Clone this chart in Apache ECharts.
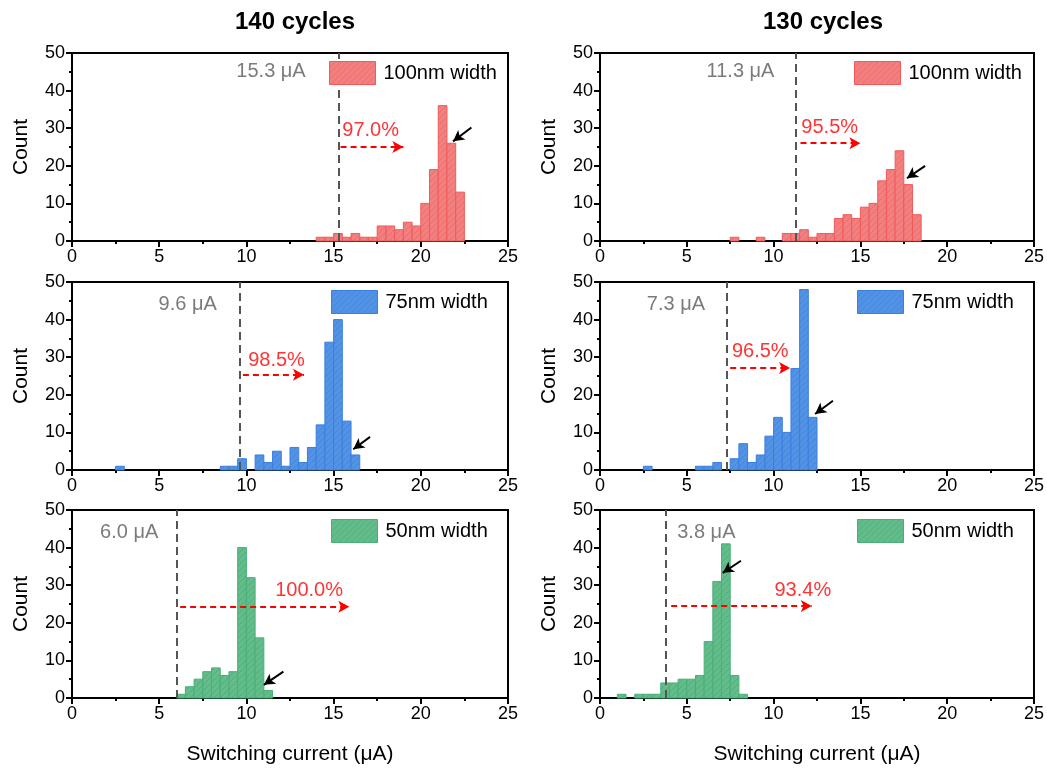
<!DOCTYPE html>
<html>
<head>
<meta charset="utf-8">
<script src="https://cdn.jsdelivr.net/npm/echarts@6/dist/echarts.min.js"></script>
<style>
  html, body { margin: 0; padding: 0; background: #fff; }
  #container { width: 1047px; height: 768px; }
</style>
</head>
<body>
<div id="container"></div>
<script>
var dom = document.getElementById("container");
var myChart = echarts.init(dom, null, { renderer: 'canvas' });

// histogram data: bins are 0.5 uA wide, first bin starts at binStart
var binWidth = 0.5;

var binStart140_100 = 14;
var counts140_100 = [1, 1, 2, 1, 2, 1, 1, 4, 4, 3, 5, 4, 10, 19, 36, 26, 13];

var binStart130_100 = 7.5;
var counts130_100 = [1, 0, 0, 1, 0, 0, 2, 2, 3, 1, 2, 2, 6, 7, 6, 9, 10, 16, 19, 24, 15, 7];

var binStart140_75 = 2.5;
var counts140_75 = [1, 0, 0, 0, 0, 0, 0, 0, 0, 0, 0, 0, 1, 1, 3, 0, 4, 2, 5, 1, 6, 2, 6, 12, 34, 40, 13, 4];

var binStart130_75 = 2.5;
var counts130_75 = [1, 0, 0, 0, 0, 0, 1, 1, 2, 0, 3, 7, 2, 4, 9, 14, 10, 27, 48, 14];

var binStart140_50 = 6;
var counts140_50 = [1, 3, 5, 7, 8, 6, 7, 40, 32, 16, 2];

var binStart130_50 = 1;
var counts130_50 = [1, 0, 1, 1, 1, 4, 4, 5, 5, 6, 15, 31, 41, 6, 1];

var seriesNames = ['100nm width', '100nm width', '75nm width', '75nm width', '50nm width', '50nm width'];
var thresholds = [15.3, 11.3, 9.6, 7.3, 6.0, 3.8];
var thresholdLabels = ['15.3 μA', '11.3 μA', '9.6 μA', '7.3 μA', '6.0 μA', '3.8 μA'];
var percentLabels = ['97.0%', '95.5%', '98.5%', '96.5%', '100.0%', '93.4%'];
var columnTitles = ['140 cycles', '130 cycles'];
var xTicks = [0, 5, 10, 15, 20, 25];
var yTicks = [0, 10, 20, 30, 40, 50];

var binStarts = [binStart140_100, binStart130_100, binStart140_75, binStart130_75, binStart140_50, binStart130_50];
var allCounts = [counts140_100, counts130_100, counts140_75, counts130_75, counts140_50, counts130_50];

// annotation placement (data coords)
var annot = [
  { thr: [13.4, 45, 'left'], pct: [15.5, 29.5], red: [[15.4, 25], [19.0, 25]], blk: [[22.9, 30.2], [21.85, 26.5]] },
  { thr: [10.05, 45, 'left'], pct: [11.6, 30.3], red: [[11.55, 26], [15.0, 26]], blk: [[18.73, 20], [17.68, 16.7]] },
  { thr: [8.3, 44, 'left'], pct: [10.1, 29.1], red: [[9.8, 25.3], [13.3, 25.3]], blk: [[17.09, 8.8], [16.13, 5.5]] },
  { thr: [6.05, 44, 'left'], pct: [7.6, 31.4], red: [[7.5, 27.1], [10.95, 27.1]], blk: [[13.42, 18.4], [12.39, 14.9]] },
  { thr: [4.95, 44, 'left'], pct: [11.65, 28.7], red: [[6.2, 24.3], [15.9, 24.3]], blk: [[12.12, 7.0], [11.0, 3.5]] },
  { thr: [4.45, 44, 'right'], pct: [10.05, 28.7], red: [[4.1, 24.5], [12.2, 24.5]], blk: [[8.12, 36.5], [7.07, 33.3]] }
];

var fills = ['#f47f7f', '#f47f7f', '#5393e6', '#5393e6', '#62bd8b', '#62bd8b'];
var hatchLines = ['#e56464', '#e56464', '#3f7fd4', '#3f7fd4', '#4aa874', '#4aa874'];
var borders = ['#f25a5a', '#f25a5a', '#3a7fdf', '#3a7fdf', '#48b077', '#48b077'];

var FONT = '"Liberation Sans", Arial, sans-serif';

function hatch(fill, line) {
  var c = document.createElement('canvas');
  c.width = 6; c.height = 6;
  var g = c.getContext('2d');
  g.fillStyle = fill;
  g.fillRect(0, 0, 6, 6);
  g.strokeStyle = line;
  g.lineWidth = 0.7;
  g.beginPath();
  g.moveTo(0, 6); g.lineTo(6, 0);
  g.moveTo(-1, 1); g.lineTo(1, -1);
  g.moveTo(5, 7); g.lineTo(7, 5);
  g.stroke();
  return c;
}

var gridLeft = [72, 600];
var gridTop = [53, 282, 510];
var gridW = 436, gridH = 188;
var legendLeft = [329, 854, 331, 857, 331, 857];
var legendTop = [61, 61, 290, 290, 519, 519];

var grids = [], xAxes = [], yAxes = [], series = [], legends = [];

for (var i = 0; i < 6; i++) {
  var col = i % 2, row = Math.floor(i / 2);
  var pattern = { image: hatch(fills[i], hatchLines[i]), repeat: 'repeat' };
  grids.push({
    left: gridLeft[col], top: gridTop[row], width: gridW, height: gridH,
    show: true, borderColor: '#000', borderWidth: 2, backgroundColor: 'transparent'
  });
  xAxes.push({
    gridIndex: i, type: 'value', min: xTicks[0], max: xTicks[xTicks.length - 1], interval: 5,
    axisLine: { lineStyle: { color: '#000', width: 2 } },
    axisTick: { length: 6, lineStyle: { color: '#000', width: 2 } },
    minorTick: { show: true, splitNumber: 2, length: 3, lineStyle: { color: '#000', width: 2 } },
    splitLine: { show: false },
    axisLabel: { color: '#000', fontSize: 18, fontFamily: FONT, margin: 7 },
    name: row === 2 ? 'Switching current (μA)' : '',
    nameLocation: 'middle', nameGap: 46,
    nameTextStyle: { color: '#000', fontSize: 21, fontFamily: FONT }
  });
  yAxes.push({
    gridIndex: i, type: 'value', min: yTicks[0], max: yTicks[yTicks.length - 1], interval: 10,
    axisLine: { lineStyle: { color: '#000', width: 2 } },
    axisTick: { length: 6, lineStyle: { color: '#000', width: 2 } },
    minorTick: { show: true, splitNumber: 2, length: 3, lineStyle: { color: '#000', width: 2 } },
    splitLine: { show: false },
    axisLabel: { color: '#000', fontSize: 18, fontFamily: FONT, margin: 7 },
    name: 'Count', nameLocation: 'middle', nameGap: 40,
    nameTextStyle: { color: '#000', fontSize: 21, fontFamily: FONT }
  });

  var data = [];
  for (var k = 0; k < allCounts[i].length; k++) {
    if (allCounts[i][k] > 0) {
      var x0 = binStarts[i] + k * binWidth;
      data.push([x0, x0 + binWidth, allCounts[i][k]]);
    }
  }
  (function (pattern, border) {
    series.push({
      type: 'custom', name: seriesNames[i] + '#' + i,
      xAxisIndex: i, yAxisIndex: i,
      itemStyle: { color: pattern, borderColor: border, borderWidth: 1 },
      data: data,
      renderItem: function (params, api) {
        var p0 = api.coord([api.value(0), api.value(2)]);
        var p1 = api.coord([api.value(1), 0]);
        return {
          type: 'rect',
          shape: { x: p0[0], y: p0[1], width: p1[0] - p0[0], height: p1[1] - p0[1] },
          style: { fill: pattern, stroke: border, lineWidth: 1 }
        };
      },
      z: 2
    });
  })(pattern, borders[i]);

  var a = annot[i];
  series.push({
    type: 'scatter', xAxisIndex: i, yAxisIndex: i, symbolSize: 0, silent: true, z: 5,
    data: [
      {
        value: [a.thr[0], a.thr[1]],
        label: { show: true, position: a.thr[2], distance: 0, formatter: thresholdLabels[i], color: '#5a5a5a', fontSize: 20, fontFamily: FONT }
      },
      {
        value: [a.pct[0], a.pct[1]],
        label: { show: true, position: 'right', distance: 0, formatter: percentLabels[i], color: '#ff0000', fontSize: 20, fontFamily: FONT }
      }
    ],
    markLine: {
      silent: true, animation: false,
      label: { show: false },
      data: [
        [{ xAxis: thresholds[i], yAxis: 0, symbol: 'none', lineStyle: { color: '#555', type: [8, 5], width: 2 } },
         { xAxis: thresholds[i], yAxis: 50, symbol: 'none' }],
        [{ coord: a.red[0], symbol: 'none', lineStyle: { color: '#ff0000', type: [6, 4], width: 2 } },
         { coord: a.red[1], symbol: 'arrow', symbolSize: [9, 11] }],
        [{ coord: a.blk[0], symbol: 'none', lineStyle: { color: '#000', type: 'solid', width: 2 } },
         { coord: a.blk[1], symbol: 'arrow', symbolSize: [9, 11] }]
      ]
    }
  });

  legends.push({
    left: legendLeft[i], top: legendTop[i], orient: 'horizontal',
    itemWidth: 46, itemHeight: 23, itemGap: 8, padding: 0,
    selectedMode: false,
    textStyle: { color: '#000', fontSize: 20, fontFamily: FONT, padding: [0, 0, 0, 3] },
    data: [{ name: seriesNames[i] + '#' + i, icon: 'rect', itemStyle: { color: pattern, borderColor: borders[i], borderWidth: 1 } }],
    formatter: function (name) { return name.split('#')[0]; },
    z: 10
  });
}

var option = {
  animation: false,
  backgroundColor: '#fff',
  title: [
    { text: columnTitles[0], left: 290, top: 5, textAlign: 'center', textStyle: { fontSize: 24, fontWeight: 'bold', color: '#000', fontFamily: FONT } },
    { text: columnTitles[1], left: 818, top: 5, textAlign: 'center', textStyle: { fontSize: 24, fontWeight: 'bold', color: '#000', fontFamily: FONT } }
  ],
  legend: legends,
  grid: grids,
  xAxis: xAxes,
  yAxis: yAxes,
  series: series
};

myChart.setOption(option);
</script>
</body>
</html>
